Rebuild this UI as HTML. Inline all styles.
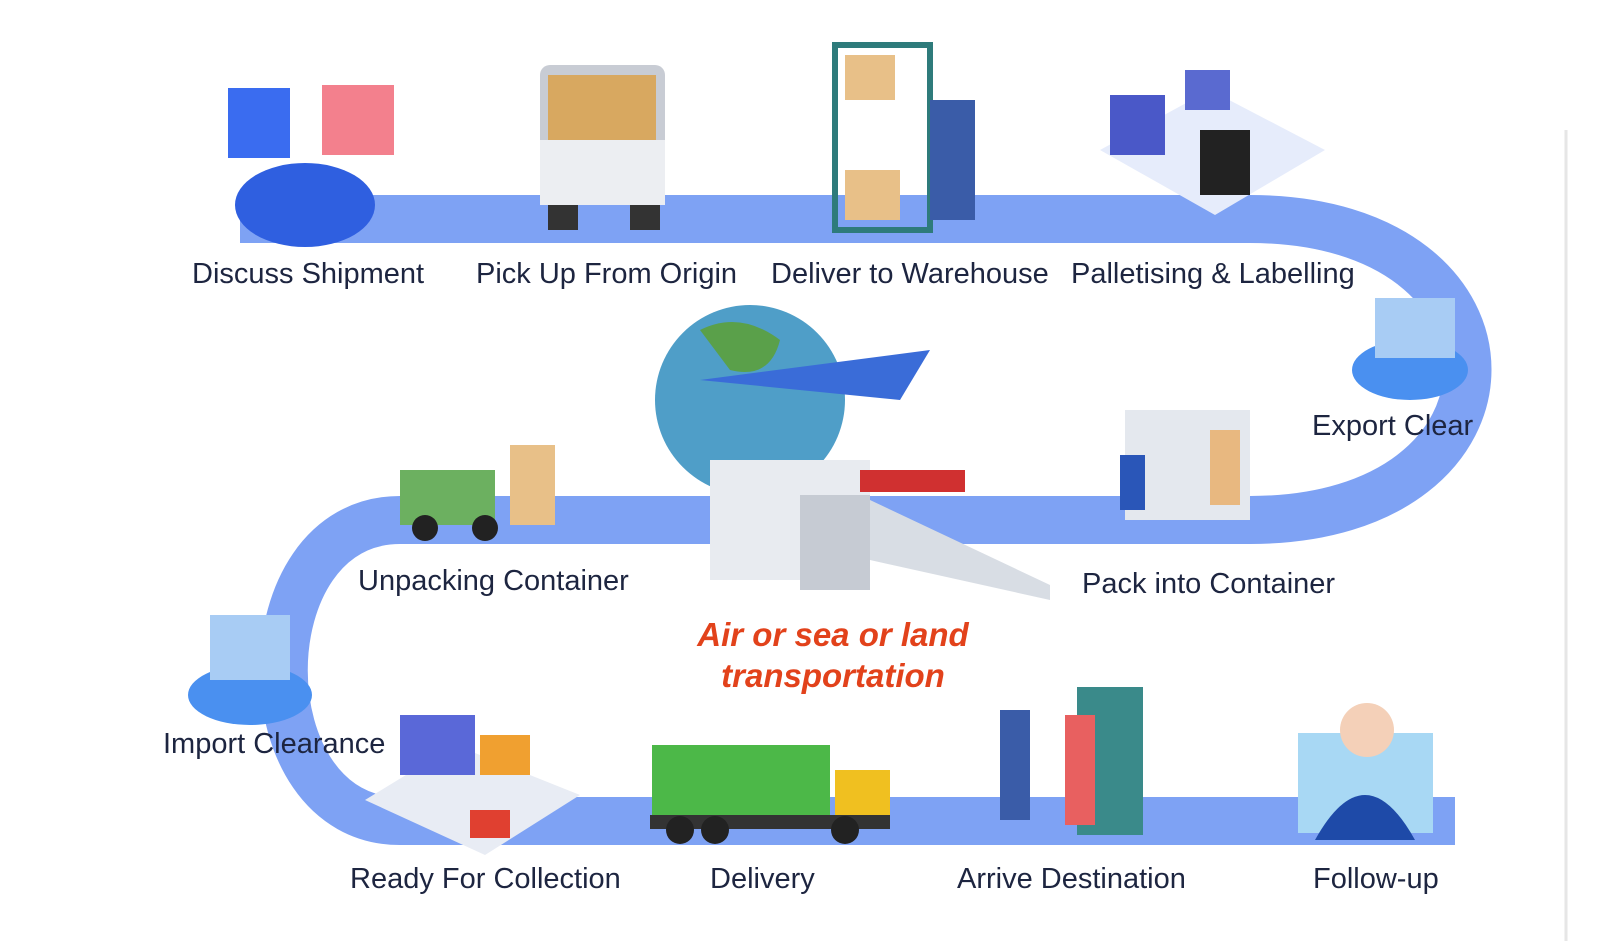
<!DOCTYPE html>
<html><head><meta charset="utf-8"><style>
html,body{margin:0;padding:0;background:#fff;}
body{width:1600px;height:941px;position:relative;overflow:hidden;font-family:"Liberation Sans",sans-serif;}
.l{position:absolute;font-size:29px;color:#1d2540;white-space:nowrap;}
.r{position:absolute;color:#e2421b;font-weight:bold;font-style:italic;font-size:33px;text-align:center;line-height:41px;}
</style></head><body>
<svg width="1600" height="941" style="position:absolute;left:0;top:0">
<path d="M240 219 L1250 219 C1540 219 1540 520 1250 520 L400 520 C245 520 245 821 400 821 L1455 821" fill="none" stroke="#7ea2f4" stroke-width="48"/>
<line x1="1566" y1="130" x2="1566" y2="941" stroke="#e6e6e6" stroke-width="3"/>
<!-- discuss -->
<ellipse cx="305" cy="205" rx="70" ry="42" fill="#2f5fe0"/>
<rect x="228" y="88" width="62" height="70" fill="#3a6cf0"/>
<rect x="322" y="85" width="72" height="70" fill="#f06070" opacity=".8"/>
<!-- truck -->
<rect x="540" y="65" width="125" height="140" rx="10" fill="#c8ccd4"/>
<rect x="548" y="75" width="108" height="65" fill="#d8a860"/>
<rect x="540" y="140" width="125" height="65" fill="#eceef2"/>
<rect x="548" y="205" width="30" height="25" fill="#333"/><rect x="630" y="205" width="30" height="25" fill="#333"/>
<!-- warehouse -->
<rect x="835" y="45" width="95" height="185" fill="none" stroke="#2e7b7b" stroke-width="6"/>
<rect x="845" y="55" width="50" height="45" fill="#e8c088"/><rect x="845" y="170" width="55" height="50" fill="#e8c088"/>
<rect x="930" y="100" width="45" height="120" fill="#3a5ca8"/>
<!-- palletising -->
<polygon points="1100,150 1210,90 1325,150 1215,215" fill="#e6ecfb"/>
<rect x="1110" y="95" width="55" height="60" fill="#4a58c8"/><rect x="1185" y="70" width="45" height="40" fill="#5a6ad0"/>
<rect x="1200" y="130" width="50" height="65" fill="#222"/>
<!-- export clear -->
<ellipse cx="1410" cy="370" rx="58" ry="30" fill="#4a90f0"/>
<rect x="1375" y="298" width="80" height="60" fill="#a8ccf4"/>
<!-- globe -->
<circle cx="750" cy="400" r="95" fill="#4f9ec8"/>
<path d="M700 330 q40 -20 80 10 q-10 40 -50 30 z" fill="#5aa04a"/>
<polygon points="700,380 930,350 900,400" fill="#3a6cd8"/>
<rect x="710" y="460" width="160" height="120" fill="#e8ebf0"/>
<rect x="800" y="495" width="70" height="95" fill="#c6cbd3"/>
<polygon points="870,500 1050,585 1050,600 870,560" fill="#d8dde4"/>
<rect x="860" y="470" width="105" height="22" fill="#d03030"/>
<!-- pack -->
<rect x="1125" y="410" width="125" height="110" fill="#e4e8ee"/><rect x="1210" y="430" width="30" height="75" fill="#e8b880"/>
<rect x="1120" y="455" width="25" height="55" fill="#2a56b8"/>
<!-- unpack -->
<rect x="400" y="470" width="95" height="55" fill="#6cb060"/><rect x="510" y="445" width="45" height="80" fill="#e8c088"/>
<circle cx="425" cy="528" r="13" fill="#222"/><circle cx="485" cy="528" r="13" fill="#222"/>
<!-- import -->
<ellipse cx="250" cy="695" rx="62" ry="30" fill="#4a90f0"/>
<rect x="210" y="615" width="80" height="65" fill="#a8ccf4"/>
<!-- ready -->
<polygon points="365,800 455,745 580,795 485,855" fill="#e8ecf4"/>
<rect x="400" y="715" width="75" height="60" fill="#5a68d8"/><rect x="480" y="735" width="50" height="40" fill="#f0a030"/>
<rect x="470" y="810" width="40" height="28" fill="#e04030"/>
<!-- delivery -->
<rect x="652" y="745" width="178" height="72" fill="#4cb848"/><rect x="835" y="770" width="55" height="50" fill="#f0c020"/>
<rect x="650" y="815" width="240" height="14" fill="#333"/>
<circle cx="680" cy="830" r="14" fill="#222"/><circle cx="715" cy="830" r="14" fill="#222"/><circle cx="845" cy="830" r="14" fill="#222"/>
<!-- arrive -->
<rect x="1077" y="687" width="66" height="148" fill="#3a8a8a"/>
<rect x="1000" y="710" width="30" height="110" fill="#3a5ca8"/><rect x="1065" y="715" width="30" height="110" fill="#e86060"/>
<!-- follow -->
<rect x="1298" y="733" width="135" height="100" fill="#a8d8f4"/>
<path d="M1315 840 q50 -90 100 0 z" fill="#1e4aa8"/><circle cx="1367" cy="730" r="27" fill="#f4d0b8"/>
</svg>
<div class="l" style="left:192px;top:258px">Discuss Shipment</div>
<div class="l" style="left:476px;top:258px">Pick Up From Origin</div>
<div class="l" style="left:771px;top:258px">Deliver to Warehouse</div>
<div class="l" style="left:1071px;top:258px">Palletising &amp; Labelling</div>
<div class="l" style="left:1312px;top:410px">Export Clear</div>
<div class="l" style="left:358px;top:565px">Unpacking Container</div>
<div class="l" style="left:1082px;top:568px">Pack into Container</div>
<div class="l" style="left:163px;top:728px">Import Clearance</div>
<div class="l" style="left:350px;top:863px">Ready For Collection</div>
<div class="l" style="left:710px;top:863px">Delivery</div>
<div class="l" style="left:957px;top:863px">Arrive Destination</div>
<div class="l" style="left:1313px;top:863px">Follow-up</div>
<div class="r" style="left:683px;top:614px;width:300px">Air or sea or land<br>transportation</div>
</body></html>
